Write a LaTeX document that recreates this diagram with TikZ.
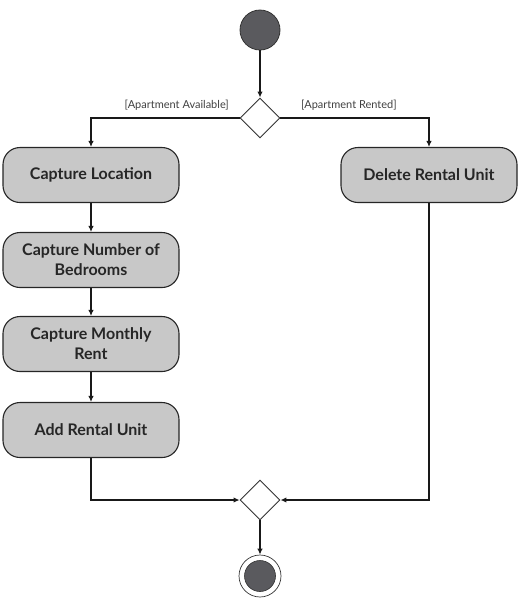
\documentclass[tikz,border=0pt]{standalone}
\usepackage{fontspec}
\setmainfont{Lato}
\usetikzlibrary{shapes.geometric,arrows.meta}
\definecolor{boxgray}{RGB}{200,200,200}
\definecolor{dotgray}{RGB}{90,90,94}
\begin{document}
\begin{tikzpicture}[x=1pt,y=-1pt,
  action/.style={draw=black!85,line width=1.1pt,fill=boxgray,rounded corners=17pt,
    minimum width=176pt,minimum height=55pt,align=center,font=\bfseries\fontsize{16}{20}\selectfont,text=black!85,inner sep=2pt},
  decision/.style={draw=black!80,line width=0.9pt,fill=white,diamond,minimum width=40pt,minimum height=40pt,inner sep=0pt},
  flow/.style={draw=black!90,line width=1.3pt,-{Latex[length=6pt,width=5.5pt]}},
  guard/.style={font=\fontsize{11}{13}\selectfont,text=black!75,inner sep=0pt}]
\useasboundingbox (0,0) rectangle (520,603);
\node[circle,draw=black!80,fill=dotgray,line width=0.8pt,minimum size=40pt,inner sep=0pt] (start) at (260,30) {};
\node[decision] (split) at (260,118) {};
\node[action] (loc) at (91,175) {Capture Location};
\node[action] (bed) at (91,260) {Capture Number of\\Bedrooms};
\node[action] (rent) at (91,344) {Capture Monthly\\Rent};
\node[action] (add) at (91,430) {Add Rental Unit};
\node[action] (del) at (429,175) {Delete Rental Unit};
\node[decision] (merge) at (260,500) {};
\node[circle,draw=black!80,line width=0.7pt,fill=white,minimum size=42pt,inner sep=0pt] (endo) at (260,576) {};
\node[circle,draw=black!80,fill=dotgray,line width=0.6pt,minimum size=31pt,inner sep=0pt] (endi) at (260,576) {};
\draw[flow] (start) -- (split);
\draw[flow] (split.west) -| (loc.north);
\draw[flow] (split.east) -| (del.north);
\draw[flow] (loc) -- (bed);
\draw[flow] (bed) -- (rent);
\draw[flow] (rent) -- (add);
\draw[flow] (add.south) |- (merge.west);
\draw[flow] (del.south) |- (merge.east);
\draw[flow] (merge) -- (endo);
\node[guard,anchor=east] (lg) at (229,105) {[Apartment Available]};
\node[guard,anchor=west] (rg) at (301,105) {[Apartment Rented]};
\end{tikzpicture}
\end{document}
